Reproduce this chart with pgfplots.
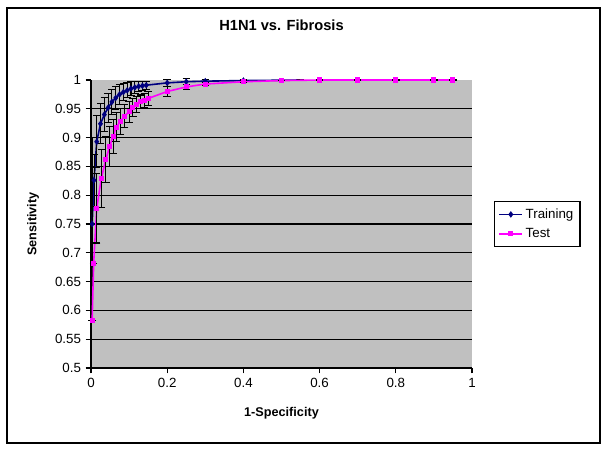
\documentclass[border=0pt]{standalone}
\usepackage{fontspec}
\setmainfont{Liberation Sans}
\usepackage{pgfplots}
\pgfplotsset{compat=1.18}
\definecolor{trainblue}{RGB}{0,0,128}
\definecolor{testpink}{RGB}{255,0,255}
\definecolor{plotgray}{RGB}{192,192,192}
\begin{document}
\begin{tikzpicture}
\begin{axis}[
  scale only axis,
  width=285.75pt, height=216pt,
  xmin=0, xmax=1, ymin=0.5, ymax=1,
  xtick={0,0.2,...,1}, ytick={0.5,0.55,...,0.951},
  extra y ticks={1}, extra tick style={grid=none},
  axis lines*=left,
  axis line style={black, line width=0.8pt},
  tick align=outside, tick style={black, line width=0.8pt},
  major tick length=4pt,
  ymajorgrids, grid style={black, line width=0.9pt},
  axis background/.style={fill=plotgray},
  /pgf/number format/assume math mode=true,
  yticklabel style={/pgf/number format/.cd, fixed, precision=2},
  xticklabel style={/pgf/number format/.cd, fixed, precision=1},
  ticklabel style={font=\fontsize{10}{12}\selectfont},
  title={\textbf{H1N1 vs. Fibrosis}},
  title style={at={(axis description cs:0.5,1.163)}, anchor=center, font=\fontsize{11}{13}\selectfont},
  xlabel={\textbf{1-Specificity}},
  xlabel style={at={(axis description cs:0.5,-0.156)}, anchor=center, font=\fontsize{9.5}{11}\selectfont},
  ylabel={\textbf{Sensitivity}},
  ylabel style={at={(axis description cs:-0.152,0.5)}, anchor=center, font=\fontsize{9.5}{11}\selectfont},
  legend style={at={(axis description cs:1.058,0.5)}, anchor=west, draw=black, line width=0.8pt,
    font=\fontsize{10}{12}\selectfont, row sep=2pt, inner sep=3pt},
  legend cell align=left,
  clip=false,
]
\addplot[trainblue, line width=1.2pt, mark=diamond*, mark size=1.5pt, mark indices={1,...,20},
  legend image post style={mark indices={2}},
  error bars/.cd, y dir=both, y explicit,
  error bar style={black, line width=0.8pt},
  error mark options={black, rotate=90, mark size=2.8pt, line width=0.8pt}]
coordinates {
(0.003,0.750) +- (0,0.150)
(0.008,0.826) +- (0,0.045)
(0.015,0.893) +- (0,0.045)
(0.025,0.924) +- (0,0.035)
(0.035,0.940) +- (0,0.030)
(0.045,0.952) +- (0,0.025)
(0.055,0.962) +- (0,0.022)
(0.065,0.969) +- (0,0.020)
(0.075,0.975) +- (0,0.017)
(0.085,0.979) +- (0,0.015)
(0.095,0.982) +- (0,0.013)
(0.105,0.985) +- (0,0.012)
(0.115,0.987) +- (0,0.010)
(0.125,0.989) +- (0,0.009)
(0.135,0.990) +- (0,0.008)
(0.145,0.991) +- (0,0.007)
(0.200,0.995) +- (0,0.006)
(0.250,0.997) +- (0,0.005)
(0.300,0.998) +- (0,0.003)
(0.400,0.999) +- (0,0.002)
(0.550,1.000) +- (0,0)
};
\addlegendentry{Training}
\addplot[testpink, line width=1.2pt, mark=square*, mark size=1.3pt,
  error bars/.cd, y dir=both, y explicit,
  error bar style={black, line width=0.8pt},
  error mark options={black, rotate=90, mark size=2.8pt, line width=0.8pt}]
coordinates {
(0.003,0.582) +- (0,0)
(0.007,0.682) +- (0,0)
(0.015,0.777) +- (0,0.060)
(0.027,0.829) +- (0,0.050)
(0.039,0.862) +- (0,0.040)
(0.049,0.885) +- (0,0.035)
(0.058,0.902) +- (0,0.030)
(0.066,0.918) +- (0,0.025)
(0.077,0.928) +- (0,0.022)
(0.088,0.937) +- (0,0.020)
(0.100,0.945) +- (0,0.018)
(0.110,0.952) +- (0,0.016)
(0.120,0.957) +- (0,0.014)
(0.130,0.962) +- (0,0.012)
(0.140,0.965) +- (0,0.012)
(0.150,0.968) +- (0,0.012)
(0.200,0.980) +- (0,0.008)
(0.250,0.988) +- (0,0.005)
(0.300,0.993) +- (0,0.003)
(0.400,0.997) +- (0,0.002)
(0.500,0.999) +- (0,0)
(0.600,1.000) +- (0,0)
(0.700,1.000) +- (0,0)
(0.800,1.000) +- (0,0)
(0.900,1.000) +- (0,0)
(0.950,1.000) +- (0,0)
};
\addlegendentry{Test}
\end{axis}
\draw[black, line width=0.8pt] ([shift={(-63pt,-56.25pt)}]current axis.south west) rectangle ([shift={(381.75pt,270pt)}]current axis.south west);
\path ([shift={(-68.25pt,-64.5pt)}]current axis.south west) rectangle ([shift={(384.75pt,276pt)}]current axis.south west);
\end{tikzpicture}
\end{document}
